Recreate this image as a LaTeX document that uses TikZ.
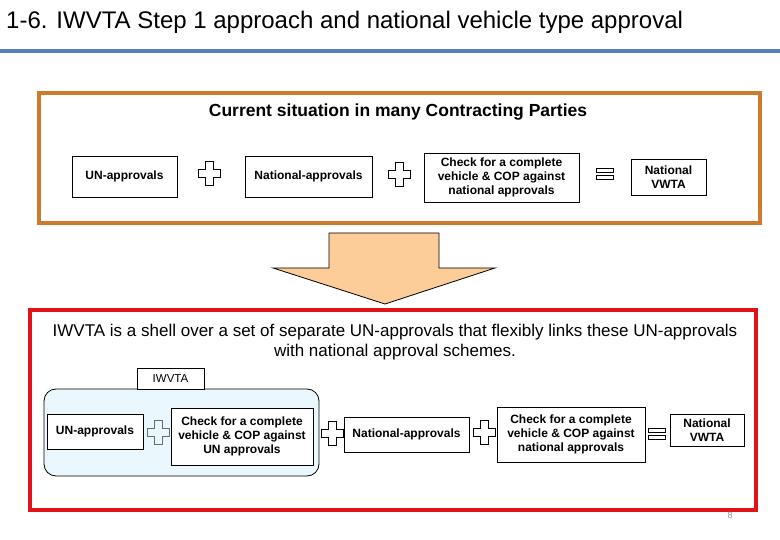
\documentclass[tikz,border=0pt]{standalone}
\usepackage{fontspec}
\setmainfont{Liberation Sans}
\definecolor{orangeframe}{RGB}{206,122,44}
\definecolor{redframe}{RGB}{224,20,22}
\definecolor{blueline}{RGB}{84,130,180}
\definecolor{peach}{RGB}{252,204,153}
\definecolor{shellfill}{RGB}{234,247,253}
\definecolor{crossgray}{RGB}{95,115,115}
\definecolor{pagegray}{RGB}{150,150,150}
\tikzset{
  bx/.style={draw=black, line width=0.9pt, fill=white, align=center, inner sep=0pt,
    font=\fontsize{12}{14.3}\selectfont\bfseries},
  plussign/.pic={\draw[line width=0.9pt, pic actions]
      (-4,-12) -- (4,-12) -- (4,-4) -- (11,-4) -- (11,4) -- (4,4) -- (4,12)
      -- (-4,12) -- (-4,4) -- (-11,4) -- (-11,-4) -- (-4,-4) -- cycle;},
  eqsign/.pic={\draw[line width=0.9pt, pic actions]
      (-8.5,-5.5) rectangle (8.5,-1.5) (-8.5,1.5) rectangle (8.5,5.5);}
}
\begin{document}
\begin{tikzpicture}[x=1pt,y=-1pt]
\useasboundingbox[fill=white] (0,0) rectangle (780,540);
% title
\node[anchor=base west, inner sep=0pt, font=\fontsize{24}{28}\selectfont] (title) at (6,29)
  {1-6. IWVTA Step 1 approach and national vehicle type approval};
\draw[blueline, line width=4pt] (0,51) -- (780,51);

% orange frame
\draw[orangeframe, line width=4pt] (39,93) rectangle (760,223);
\node[font=\fontsize{17.5}{20}\selectfont\bfseries] (head) at (398,112)
  {Current situation in many Contracting Parties};
\node[bx, minimum width=105, minimum height=41] (un1) at (124.5,176.5) {UN-approvals};
\pic at (209,173) {plussign};
\node[bx, minimum width=127, minimum height=41] (nat1) at (308.5,176.5) {National-approvals};
\pic at (399,174) {plussign};
\node[bx, minimum width=155, minimum height=49] (chk1) at (501.5,177.5)
  {Check for a complete\\vehicle \& COP against\\national approvals};
\pic at (605,174) {eqsign};
\node[bx, minimum width=75, minimum height=36] (vw1) at (668.5,177) {National\\VWTA};

% big arrow
\draw[fill=peach, line width=0.8pt] (329,233) -- (439,233) -- (439,268) -- (495,268)
  -- (385,304) -- (273,268) -- (329,268) -- cycle;

% red frame
\draw[redframe, line width=4.5pt] (30,310) rectangle (756,510);
\node[align=center, font=\fontsize{17}{19.5}\selectfont] (shelltext) at (395,342)
  {IWVTA is a shell over a set of separate UN-approvals that flexibly links these UN-approvals\\
   with national approval schemes.};

% IWVTA shell
\draw[fill=shellfill, line width=0.8pt, rounded corners=12pt] (44,389) rectangle (319,476);
\node[draw=black, line width=0.8pt, fill=white, minimum width=67, minimum height=21, inner sep=0pt,
  font=\fontsize{11.5}{13}\selectfont] (tab) at (170.5,378.5) {IWVTA};
\node[bx, minimum width=96, minimum height=35] (un2) at (95,431.5) {UN-approvals};
\pic[draw=crossgray] at (158,432) {plussign};
\node[bx, minimum width=142, minimum height=57] (chk2) at (242,436.5)
  {Check for a complete\\vehicle \& COP against\\UN approvals};
\pic at (332,433) {plussign};
\node[bx, minimum width=125, minimum height=35] (nat2) at (406.5,434.5) {National-approvals};
\pic at (484,432) {plussign};
\node[bx, minimum width=148, minimum height=55] (chk3) at (571,434.5)
  {Check for a complete\\vehicle \& COP against\\national approvals};
\pic at (657,434) {eqsign};
\node[bx, minimum width=74, minimum height=32] (vw2) at (707,430) {National\\VWTA};

\node[text=pagegray, font=\fontsize{9}{10}\selectfont] (page) at (730,515) {8};
\end{tikzpicture}
\end{document}
